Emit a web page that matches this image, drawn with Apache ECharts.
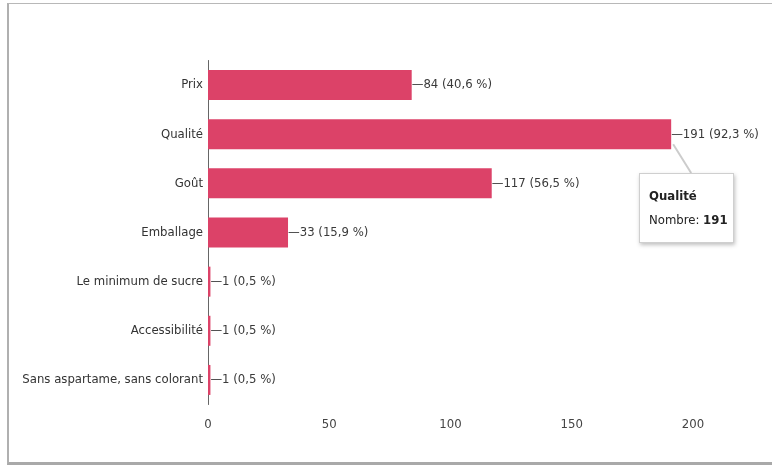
<!DOCTYPE html>
<html>
<head>
<meta charset="utf-8">
<script src="https://cdn.jsdelivr.net/npm/echarts@6/dist/echarts.min.js"></script>
<style>
  html, body { margin: 0; padding: 0; background: #ffffff; }
  #frame {
    position: absolute; left: 7px; top: 3px; width: 770px; height: 462px;
    border: 1px solid #b8b8b8; border-bottom: 3px solid #a9a9a9; border-left: 2px solid #b0b0b0;
    box-sizing: border-box;
  }
  #chart { position: absolute; left: 0; top: 0; width: 772px; height: 474px; }
</style>
</head>
<body>
<div id="frame"></div>
<div id="chart"></div>
<script>
// Réponses : critères de choix
const categories = ['Prix', 'Qualité', 'Goût', 'Emballage', 'Le minimum de sucre', 'Accessibilité', 'Sans aspartame, sans colorant'];
const counts = [84, 191, 117, 33, 1, 1, 1];
const percents = ['40,6', '92,3', '56,5', '15,9', '0,5', '0,5', '0,5'];
const xTicks = [0, 50, 100, 150, 200];

const FONT = '"Liberation Sans Narrow", "DejaVu Sans Condensed", Arial, sans-serif';
const chart = echarts.init(document.getElementById('chart'), null, { renderer: 'canvas' });

chart.setOption({
  animation: false,
  backgroundColor: 'transparent',
  grid: { left: 208, right: 79, top: 60.5, bottom: 69.5, containLabel: false },
  xAxis: {
    type: 'value', min: xTicks[0], max: xTicks[xTicks.length - 1], interval: 50,
    axisLine: { show: false }, axisTick: { show: false },
    splitLine: { show: false },
    axisLabel: { color: '#444', fontFamily: FONT, fontSize: 13, margin: 14 }
  },
  yAxis: {
    type: 'category', inverse: true, data: categories,
    axisLine: { show: true, lineStyle: { color: '#666', width: 1 } },
    axisTick: { show: false },
    axisLabel: { color: '#333', fontFamily: FONT, fontSize: 13, margin: 5 }
  },
  tooltip: {
    trigger: 'item', alwaysShowContent: true, showContent: true,
    transitionDuration: 0,
    position: [639, 173],
    backgroundColor: '#ffffff', borderColor: '#cfcfcf', borderWidth: 1,
    padding: [10, 6, 10, 9],
    extraCssText: 'box-shadow: 1px 2px 4px rgba(0,0,0,0.25); border-radius: 0; width: 78px;',
    textStyle: { fontFamily: FONT, fontSize: 13, color: '#222' },
    formatter: p => '<div style="font-weight:bold;line-height:24px">' + p.name + '</div>' +
                    '<div style="line-height:24px">Nombre: <b>' + p.value + '</b></div>'
  },
  series: [{
    type: 'bar', data: counts, barWidth: 30,
    itemStyle: { color: '#dc4268' },
    label: {
      show: true, position: 'right', distance: 0,
      color: '#3a3a3a', fontFamily: FONT, fontSize: 13,
      formatter: p => '\u2014' + p.value + ' (' + percents[p.dataIndex] + ' %)'
    }
  }]
});

// Connector from the highlighted bar end to the tooltip box
const end = chart.convertToPixel({ seriesIndex: 0 }, [counts[1], 1]);
chart.setOption({
  graphic: [{
    type: 'line', silent: true,
    shape: { x1: end[0] + 2, y1: end[1] + 10, x2: end[0] + 20, y2: 173 },
    style: { stroke: '#cccccc', lineWidth: 2 }
  }]
});

chart.dispatchAction({ type: 'showTip', seriesIndex: 0, dataIndex: 1 });
</script>
</body>
</html>
